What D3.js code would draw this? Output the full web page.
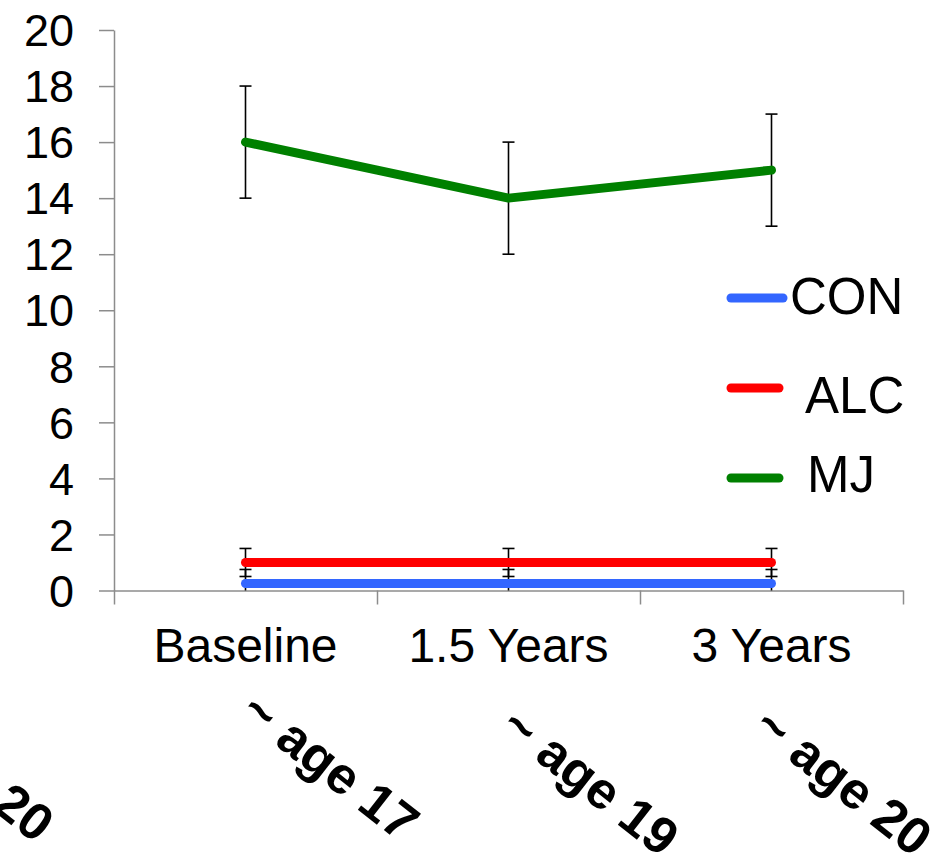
<!DOCTYPE html>
<html>
<head>
<meta charset="utf-8">
<script src="https://cdn.jsdelivr.net/npm/d3@7"></script>
<style>
  html, body { margin: 0; padding: 0; background: #fff; }
  svg { display: block; font-family: "Liberation Sans", Arial, sans-serif; }
</style>
</head>
<body>
<svg id="chart" width="933" height="859"></svg>
<script>
// categories and series
const categories = ['Baseline', '1.5 Years', '3 Years'];
const groups = ['CON', 'ALC', 'MJ'];
const conValues = [0.25, 0.25, 0.25];
const alcValues = [1, 1, 1];
const mjValues  = [16, 14, 15];
const conErr = [0.5, 0.5, 0.5];
const alcErr = [0.5, 0.5, 0.5];
const mjErr  = [2, 2, 2];
const yTicks = [0, 2, 4, 6, 8, 10, 12, 14, 16, 18, 20];
const ageLabels = ['~ age 17', '~ age 19', '~ age 20', '~ age 20'];

const colors = { CON: '#3366ff', ALC: '#ff0000', MJ: '#008000' };

const series = [
  { name: 'CON', values: conValues, err: conErr },
  { name: 'ALC', values: alcValues, err: alcErr },
  { name: 'MJ',  values: mjValues,  err: mjErr }
];

const svg = d3.select('#chart');

// plot area
const plot = { left: 114, right: 903, top: 30, bottom: 590.5 };

const y = d3.scaleLinear().domain([0, 20]).range([plot.bottom, plot.top]);
// boundaries between categories (ticks sit between them)
const xb = d3.scaleLinear().domain([0, categories.length]).range([plot.left, plot.right]);
const xc = i => xb(i + 0.5);

// y axis
const yAxis = svg.append('g')
  .attr('transform', `translate(${plot.left},0)`)
  .call(d3.axisLeft(y).tickValues(yTicks).tickSize(15).tickSizeOuter(0).tickFormat(''));
yAxis.selectAll('line, path').attr('stroke', '#8c8c8c').attr('stroke-width', 1.5);

svg.append('g').selectAll('text')
  .data(yTicks)
  .join('text')
    .attr('x', 74)
    .attr('y', d => y(d))
    .attr('dy', '0.36em')
    .attr('text-anchor', 'end')
    .attr('font-size', 45)
    .attr('fill', '#000')
    .text(d => d);

// x axis
const xAxis = svg.append('g')
  .attr('transform', `translate(0,${plot.bottom})`)
  .call(d3.axisBottom(xb).tickValues(d3.range(categories.length + 1)).tickSize(14).tickSizeOuter(0).tickFormat(''));
xAxis.selectAll('line, path').attr('stroke', '#8c8c8c').attr('stroke-width', 1.5);

svg.append('g').selectAll('text')
  .data(categories)
  .join('text')
    .attr('x', (d, i) => xc(i))
    .attr('y', 662)
    .attr('text-anchor', 'middle')
    .attr('font-size', 48)
    .attr('fill', '#000')
    .text(d => d);

// error bars
const capW = 6;
series.forEach(s => {
  const g = svg.append('g').attr('stroke', '#000').attr('stroke-width', 1.6);
  s.values.forEach((v, i) => {
    const x = xc(i);
    const lo = Math.max(0, v - s.err[i]);
    const hi = v + s.err[i];
    g.append('line').attr('x1', x).attr('x2', x).attr('y1', y(lo)).attr('y2', y(hi));
    g.append('line').attr('x1', x - capW).attr('x2', x + capW).attr('y1', y(hi)).attr('y2', y(hi));
    if (v - s.err[i] >= 0) {
      g.append('line').attr('x1', x - capW).attr('x2', x + capW).attr('y1', y(lo)).attr('y2', y(lo));
    }
  });
});

// lines
const line = d3.line()
  .x((d, i) => xc(i))
  .y(d => y(d));

series.forEach(s => {
  svg.append('path')
    .datum(s.values)
    .attr('fill', 'none')
    .attr('stroke', colors[s.name])
    .attr('stroke-width', 9)
    .attr('stroke-linecap', 'round')
    .attr('stroke-linejoin', 'round')
    .attr('d', line);
});

// legend
const legendLineY = [298, 388, 478];
const legendTextX = [790, 805, 807];
const legendTextY = [314, 413, 492];
const legendLineX2 = [783, 779, 779];

groups.forEach((name, i) => {
  svg.append('line')
    .attr('x1', 731).attr('x2', legendLineX2[i])
    .attr('y1', legendLineY[i]).attr('y2', legendLineY[i])
    .attr('stroke', colors[name])
    .attr('stroke-width', 9)
    .attr('stroke-linecap', 'round');
  svg.append('text')
    .attr('x', legendTextX[i])
    .attr('y', legendTextY[i])
    .attr('font-size', 51)
    .attr('fill', '#000')
    .text(name);
});

// rotated age labels
const agePos = [[238, 716], [498, 731], [751, 731], [-127, 717]];
svg.append('g').selectAll('text')
  .data(ageLabels)
  .join('text')
    .attr('transform', (d, i) => `translate(${agePos[i][0]},${agePos[i][1]}) rotate(38)`)
    .attr('font-size', 52)
    .attr('font-weight', 'bold')
    .attr('fill', '#000')
    .text(d => d);
</script>
</body>
</html>
